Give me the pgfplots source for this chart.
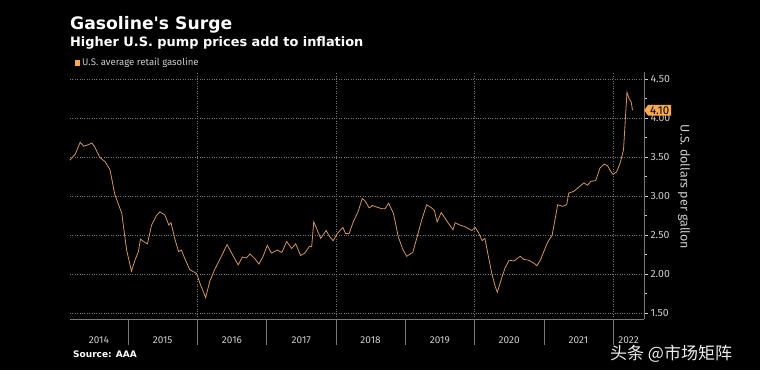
\documentclass[border=0pt]{standalone}
\usepackage{pgfplots}
\pgfplotsset{compat=1.18}
\usepackage{fontspec}
\setmainfont{Fira Sans}
\newfontfamily\titlefont{DejaVu Sans}
\newfontfamily\cjk{Noto Sans CJK SC}
\usetikzlibrary{shapes.symbols}
\definecolor{gasline}{RGB}{212,148,88}
\definecolor{gasorange}{RGB}{249,169,75}
\definecolor{ticktext}{RGB}{205,205,205}
\definecolor{gridc}{RGB}{120,120,120}
\pgfplotstableread{
x y
2014.16 3.46
2014.24 3.54
2014.31 3.69
2014.36 3.64
2014.43 3.66
2014.48 3.68
2014.52 3.63
2014.59 3.50
2014.67 3.44
2014.74 3.34
2014.81 3.02
2014.91 2.78
2014.98 2.31
2015.05 2.04
2015.10 2.18
2015.15 2.29
2015.18 2.45
2015.24 2.41
2015.28 2.39
2015.34 2.63
2015.41 2.75
2015.46 2.80
2015.53 2.76
2015.59 2.63
2015.62 2.66
2015.68 2.44
2015.73 2.29
2015.77 2.31
2015.82 2.20
2015.89 2.06
2015.99 2.01
2016.04 1.88
2016.12 1.70
2016.18 1.91
2016.25 2.06
2016.33 2.20
2016.38 2.29
2016.43 2.38
2016.52 2.23
2016.59 2.12
2016.65 2.22
2016.71 2.21
2016.76 2.26
2016.83 2.20
2016.89 2.13
2016.95 2.23
2017.01 2.37
2017.07 2.27
2017.15 2.31
2017.22 2.28
2017.29 2.42
2017.36 2.33
2017.42 2.39
2017.49 2.24
2017.55 2.27
2017.62 2.36
2017.65 2.35
2017.68 2.67
2017.72 2.59
2017.78 2.46
2017.86 2.56
2017.91 2.48
2017.96 2.43
2018.02 2.52
2018.10 2.60
2018.14 2.52
2018.19 2.52
2018.25 2.67
2018.32 2.80
2018.38 2.97
2018.42 2.94
2018.48 2.85
2018.53 2.88
2018.59 2.86
2018.66 2.84
2018.71 2.84
2018.76 2.91
2018.83 2.78
2018.90 2.48
2018.96 2.33
2019.02 2.23
2019.11 2.28
2019.16 2.44
2019.24 2.70
2019.31 2.89
2019.38 2.85
2019.42 2.82
2019.46 2.67
2019.52 2.79
2019.61 2.67
2019.69 2.57
2019.72 2.66
2019.79 2.63
2019.86 2.61
2019.96 2.56
2020.01 2.60
2020.06 2.53
2020.11 2.43
2020.15 2.46
2020.20 2.23
2020.25 2.01
2020.30 1.84
2020.33 1.77
2020.37 1.89
2020.44 2.08
2020.50 2.18
2020.57 2.17
2020.66 2.23
2020.71 2.19
2020.78 2.18
2020.86 2.14
2020.90 2.11
2020.95 2.18
2021.00 2.29
2021.05 2.40
2021.12 2.50
2021.17 2.74
2021.20 2.89
2021.27 2.87
2021.33 2.89
2021.36 3.04
2021.43 3.06
2021.51 3.12
2021.58 3.17
2021.63 3.14
2021.68 3.19
2021.75 3.20
2021.81 3.36
2021.87 3.41
2021.92 3.39
2021.97 3.31
2022.00 3.28
2022.05 3.31
2022.10 3.42
2022.15 3.59
2022.17 3.89
2022.20 4.33
2022.23 4.25
2022.26 4.21
2022.28 4.10
}\gas
\begin{document}
\begin{tikzpicture}[x=1pt,y=1pt]
\fill[black] (0,0) rectangle (760,370);
% titles
\node[anchor=base west, inner sep=0, text=white, font=\fontsize{17.2}{19}\selectfont\titlefont\bfseries] at (70,340) {Gasoline\textquotesingle s Surge};
\node[anchor=base west, inner sep=0, text=white, font=\fontsize{12.9}{15}\selectfont\titlefont\bfseries] at (70,323) {Higher U.S. pump prices add to inflation};
\fill[gasorange] (74.5,304) rectangle (80,309.5);
\node[anchor=base west, inner sep=0, text=ticktext, font=\fontsize{9.6}{11}\selectfont] at (82,304) {U.S. average retail gasoline};
\node[anchor=base west, inner sep=0, text=white, font=\fontsize{9}{10}\selectfont\titlefont\bfseries] at (73,13) {Source: AAA};
\node[anchor=base west, inner sep=0, text=white!85!gray, font=\fontsize{17}{18}\selectfont\cjk] at (610,11) {头条 @市场矩阵};
\node[rotate=-90, text=ticktext, font=\fontsize{12.5}{14}\selectfont] at (684,183) {U.S. dollars per gallon};
\begin{axis}[
  at={(70pt,51pt)}, anchor=south west,
  width=574pt, height=247pt, scale only axis,
  xmin=2014.163, xmax=2022.446,
  ymin=1.427, ymax=4.59,
  axis x line*=bottom, axis y line*=right,
  axis line style={-, draw=gridc, line width=0.8pt},
  xtick=\empty,
  ytick={1.5,2,...,4.5},
  minor ytick={1.75,2.25,...,4.25},
  ytick align=outside,
  y tick style={draw=ticktext, line width=0.6pt},
  major tick length=3.5pt, minor tick length=2.5pt,
  yticklabel style={text=ticktext, font=\fontsize{10.5}{12}\selectfont, xshift=-0.5pt},
  /pgf/number format/assume math mode=true,
  /pgf/number format/.cd, fixed, fixed zerofill, precision=2, /pgfplots/.cd,
  ymajorgrids,
  major grid style={draw=gridc, dotted, line width=0.5pt},
  clip=false,
]
\pgfplotsinvokeforeach{2016,2018,2020,2022}{
  \draw[gridc, dotted, line width=0.5pt] (axis cs:#1,1.427) -- (axis cs:#1,4.59);
}
\pgfplotsinvokeforeach{2015,2016,2017,2018,2019,2020,2021,2022}{
  \draw[gridc, line width=0.6pt] (axis cs:#1,1.427) -- ++(0pt,-26pt);
}
\addplot[gasline, line width=0.8pt] table[x=x,y=y] {\gas};
\node[text=ticktext, font=\fontsize{10}{12}\selectfont, anchor=base, yshift=-24pt] at (axis cs:2014.58,1.427) {2014};
\node[text=ticktext, font=\fontsize{10}{12}\selectfont, anchor=base, yshift=-24pt] at (axis cs:2015.5,1.427) {2015};
\node[text=ticktext, font=\fontsize{10}{12}\selectfont, anchor=base, yshift=-24pt] at (axis cs:2016.5,1.427) {2016};
\node[text=ticktext, font=\fontsize{10}{12}\selectfont, anchor=base, yshift=-24pt] at (axis cs:2017.5,1.427) {2017};
\node[text=ticktext, font=\fontsize{10}{12}\selectfont, anchor=base, yshift=-24pt] at (axis cs:2018.5,1.427) {2018};
\node[text=ticktext, font=\fontsize{10}{12}\selectfont, anchor=base, yshift=-24pt] at (axis cs:2019.5,1.427) {2019};
\node[text=ticktext, font=\fontsize{10}{12}\selectfont, anchor=base, yshift=-24pt] at (axis cs:2020.5,1.427) {2020};
\node[text=ticktext, font=\fontsize{10}{12}\selectfont, anchor=base, yshift=-24pt] at (axis cs:2021.5,1.427) {2021};
\node[text=ticktext, font=\fontsize{10}{12}\selectfont, anchor=base, yshift=-24pt] at (axis cs:2022.223,1.427) {2022};
\node[signal, signal to=west, signal pointer angle=110, fill=gasorange, text=black, inner xsep=2pt, inner ysep=1.5pt, font=\fontsize{11.5}{13}\selectfont, anchor=west] at (axis cs:2022.446,4.10) {4.10};
\end{axis}
\end{tikzpicture}
\end{document}
